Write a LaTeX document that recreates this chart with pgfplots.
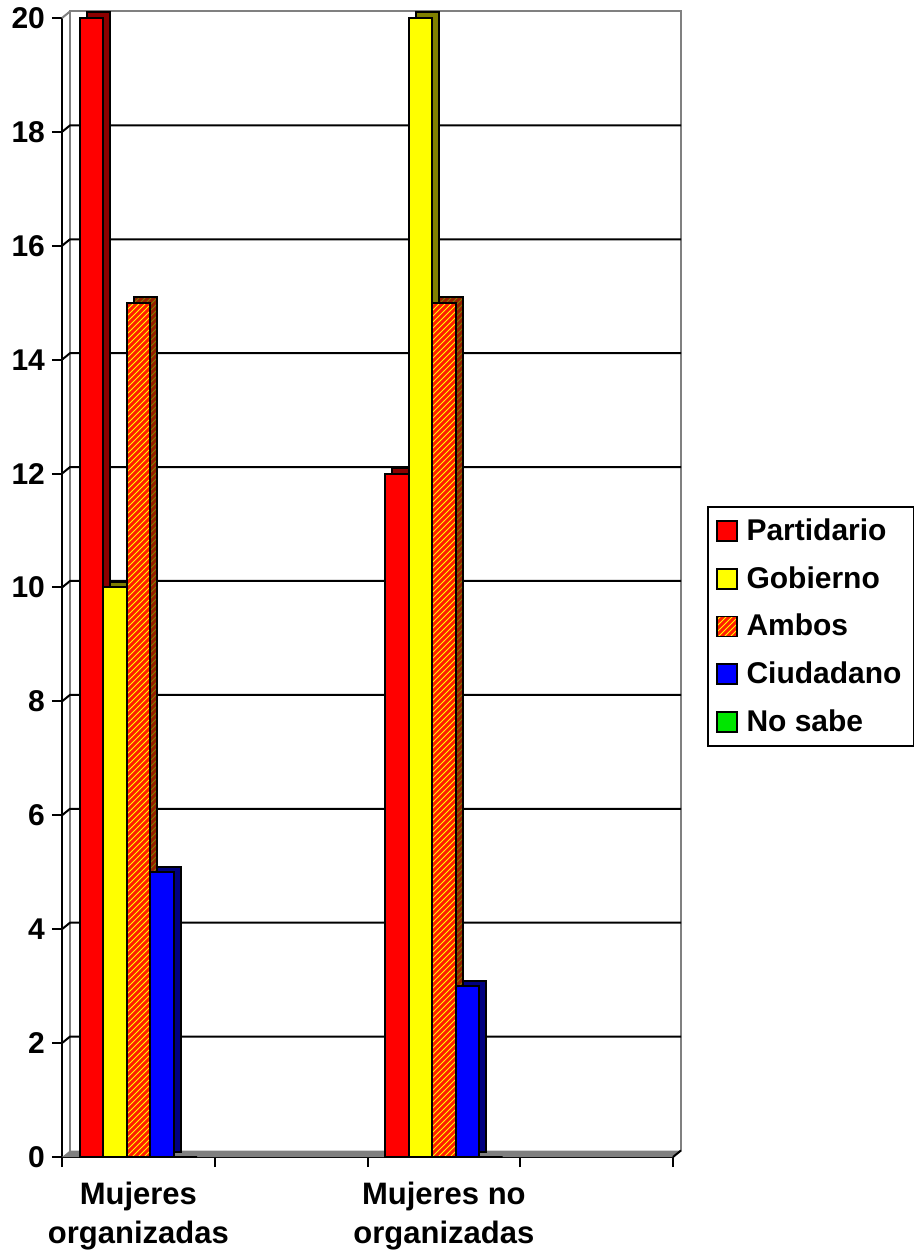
\documentclass[border=0pt]{standalone}
\usepackage{pgfplots}
\pgfplotsset{compat=1.18}
\usepackage{pgfplotstable}
\usepackage{fontspec}
\setmainfont{Liberation Sans}
\usetikzlibrary{patterns}

\definecolor{cRed}{RGB}{255,0,0}
\definecolor{cRedS}{RGB}{140,0,0}
\definecolor{cYel}{RGB}{255,255,0}
\definecolor{cYelS}{RGB}{128,128,0}
\definecolor{cAmb}{RGB}{255,30,0}
\definecolor{cAmbS}{RGB}{150,30,0}
\definecolor{cBlue}{RGB}{0,0,255}
\definecolor{cBlueS}{RGB}{0,0,128}
\definecolor{cGreen}{RGB}{0,230,0}
\definecolor{wallgray}{RGB}{128,128,128}

\pgfplotsset{
  bar3d/.style={ybar, bar width=11.75pt, bar shift=#1, draw=black, line width=1pt},
  side3d/.style={ybar, bar width=11.75pt, bar shift=#1, draw=black, line width=1pt,
    xshift=3.5pt, yshift=2.75pt, forget plot},
  sqleg/.style={legend image code/.code={\draw[##1,line width=0.75pt] (0pt,-5pt) rectangle (10pt,5pt);}},
}

% valores por grupo (x=0: organizadas, x=2: no organizadas)
\pgfplotstableread{
x partidario gobierno ambos ciudadano nosabe
0 20 10 15 5 0
2 12 20 15 3 0
}\datos

\begin{document}
\begin{tikzpicture}
\useasboundingbox (-31pt,-48pt) rectangle (426pt,578.5pt);
\begin{axis}[
  at={(0,0)}, anchor=south west,
  scale only axis, width=305.5pt, height=569.5pt,
  xmin=-0.5, xmax=3.5, ymin=0, ymax=20,
  clip=false,
  axis x line=bottom, axis y line=left,
  axis line style={-, black, line width=1pt},
  every tick/.style={black, line width=1pt},
  major tick length=5pt,
  tick align=outside,
  ytick={0,2,...,20},
  xtick={-0.5,0.5,1.5,2.5,3.5}, xticklabels={{},{},{},{},{}},
  extra x ticks={0,2},
  extra x tick labels={{Mujeres\\organizadas},{Mujeres no\\organizadas}},
  extra x tick style={major tick length=0pt,
    xticklabel style={align=center, yshift=-9pt, font=\bfseries\fontsize{15.5}{19.5}\selectfont}},
  tick label style={font=\bfseries\fontsize{15}{18}\selectfont},
  /pgf/number format/assume math mode=true,
  legend style={at={(1,0.5)}, anchor=west, xshift=17pt, yshift=-19.5pt,
    draw=black, line width=1pt, font=\bfseries\fontsize{15}{18}\selectfont,
    row sep=7.5pt, inner xsep=4pt, inner ysep=4pt, cells={anchor=west},
    /tikz/column 1/.style={column sep=2.5pt}},
]
% pared del fondo y piso
\fill[wallgray] (axis cs:-0.5,0) -- (axis cs:3.5,0) -- ++(4pt,3.25pt)
  -- ([shift={(4pt,3.25pt)}]axis cs:-0.5,0) -- cycle;
\draw[wallgray, line width=1pt] ([shift={(4pt,3.25pt)}]axis cs:-0.5,0)
  -- ([shift={(4pt,3.25pt)}]axis cs:-0.5,20)
  -- ([shift={(4pt,3.25pt)}]axis cs:3.5,20)
  -- ([shift={(4pt,3.25pt)}]axis cs:3.5,0);
\draw[wallgray, line width=1pt] (axis cs:-0.5,20) -- ++(4pt,3.25pt);
\draw[black, line width=1pt] (axis cs:3.5,0) -- ++(4pt,3.25pt);
\pgfplotsinvokeforeach{2,4,...,18}{
  \draw[black, line width=1pt] (axis cs:-0.5,#1) -- ++(4pt,3.25pt)
    -- ([shift={(4pt,3.25pt)}]axis cs:3.5,#1);
}

% caras laterales
\addplot[side3d=-23.5pt, fill=cRedS] table[x=x, y=partidario]{\datos};
\addplot[side3d=-11.75pt, fill=cYelS] table[x=x, y=gobierno]{\datos};
\addplot[side3d=0pt, fill=cAmbS, postaction={pattern=north east lines, pattern color=cYelS}] table[x=x, y=ambos]{\datos};
\addplot[side3d=11.75pt, fill=cBlueS] table[x=x, y=ciudadano]{\datos};

% caras frontales
\addplot[bar3d=-23.5pt, sqleg, fill=cRed] table[x=x, y=partidario]{\datos};
\addplot[bar3d=-11.75pt, sqleg, fill=cYel] table[x=x, y=gobierno]{\datos};
\addplot[bar3d=0pt, sqleg, fill=cAmb, postaction={pattern=north east lines, pattern color=cYel}] table[x=x, y=ambos]{\datos};
\addplot[bar3d=11.75pt, sqleg, fill=cBlue] table[x=x, y=ciudadano]{\datos};
\addplot[bar3d=23.5pt, sqleg, fill=cGreen] table[x=x, y=nosabe]{\datos};

\legend{Partidario, Gobierno, Ambos, Ciudadano, No sabe}
\end{axis}
\end{tikzpicture}
\end{document}
